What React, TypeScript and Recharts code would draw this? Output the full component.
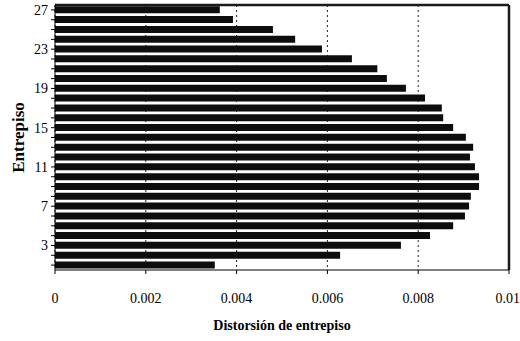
import React from "react";
import * as R from "recharts";
import { BarChart, Bar, XAxis, YAxis, CartesianGrid } from "recharts";

const stories = [
  "1", "2", "3", "4", "5", "6", "7", "8", "9", "10", "11", "12", "13", "14",
  "15", "16", "17", "18", "19", "20", "21", "22", "23", "24", "25", "26", "27",
];
const drift = [
  0.00352, 0.00628, 0.00762, 0.00826, 0.00877, 0.00903, 0.00912, 0.00916, 0.00934,
  0.00934, 0.00925, 0.00914, 0.00921, 0.00905, 0.00877, 0.00855, 0.00852, 0.00815,
  0.00773, 0.00731, 0.0071, 0.00654, 0.00588, 0.00529, 0.0048, 0.00392, 0.00363,
];
const xTicks = [0, 0.002, 0.004, 0.006, 0.008, 0.01];
const xTickLabels = ["0", "0.002", "0.004", "0.006", "0.008", "0.01"];
const yTickLabels = ["3", "7", "11", "15", "19", "23", "27"];
const xTitle = "Distorsión de entrepiso";
const yTitle = "Entrepiso";

const data = stories.map((s, i) => ({ story: s, drift: drift[i] }));

const FONT = "'Liberation Serif', 'DejaVu Serif', serif";

function Decor() {
  const hook: any = (R as any).usePlotArea;
  const pa = hook ? hook() : null;
  if (!pa) return null;
  const cx = pa.x - 37;
  const cy = pa.y + pa.height / 2;
  const x0 = pa.x;
  const x1 = pa.x + pa.width;
  const y0 = pa.y;
  const y1 = pa.y + pa.height;
  return (
    <g>
      <line x1={x0} y1={y0} x2={x1} y2={y0} stroke="#1a1a1a" strokeWidth={2.5} />
      <line x1={x1} y1={y0} x2={x1} y2={y1} stroke="#1a1a1a" strokeWidth={2.5} />
      <text
        x={pa.x + pa.width / 2}
        y={y1 + 55}
        textAnchor="middle"
        dominantBaseline="central"
        fontFamily={FONT}
        fontWeight="bold"
        fontSize={14}
        fill="#000"
      >
        {xTitle}
      </text>
      <text
        x={cx}
        y={cy}
        transform={`rotate(-90 ${cx} ${cy})`}
        textAnchor="middle"
        dominantBaseline="central"
        fontFamily={FONT}
        fontWeight="bold"
        fontSize={17}
        fill="#000"
      >
        {yTitle}
      </text>
    </g>
  );
}

export default function App() {
  return (
    <div style={{ position: "absolute", left: 0, top: 0, fontFamily: FONT }}>
      <BarChart
        width={520}
        height={341}
        data={data}
        layout="vertical"
        margin={{ top: 5, right: 11, bottom: 0, left: 0 }}
        barCategoryGap="13%"
        style={{ fontFamily: FONT }}
      >
        <CartesianGrid horizontal={false} vertical stroke="#222" strokeDasharray="2 3" />
        <XAxis
          type="number"
          dataKey="drift"
          domain={[0, 0.01]}
          ticks={xTicks}
          allowDataOverflow
          height={71}
          tickSize={4}
          tickMargin={19}
          stroke="#000"
          tick={{ fill: "#000", fontSize: 14, fontFamily: FONT }}
          tickFormatter={(v: number) => xTickLabels[xTicks.indexOf(v)] ?? ""}
        />
        <YAxis
          type="category"
          dataKey="story"
          reversed
          width={55}
          interval={0}
          tickSize={4}
          tickMargin={3}
          stroke="#000"
          tick={{ fill: "#000", fontSize: 14, fontFamily: FONT }}
          tickFormatter={(v: string) => (yTickLabels.includes(v) ? v : "")}
        />
        <Bar dataKey="drift" fill="#0d0d0d" isAnimationActive={false} />
        <Decor />
      </BarChart>
    </div>
  );
}
